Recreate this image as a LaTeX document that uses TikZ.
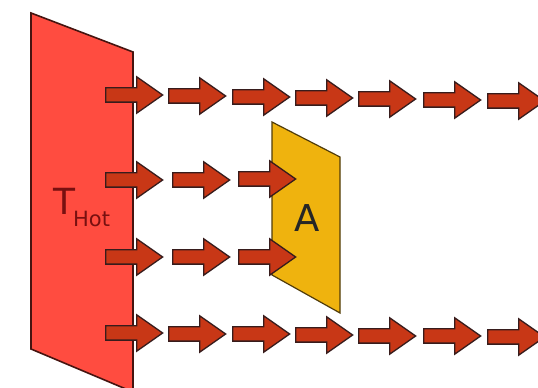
\documentclass[tikz,border=0pt]{standalone}
\usepackage{fontspec}
\setmainfont{DejaVu Sans}
\usepackage{xcolor}
\usetikzlibrary{shapes.arrows}
\definecolor{hotred}{RGB}{255,76,64}
\definecolor{hotedge}{RGB}{70,20,16}
\definecolor{flowred}{RGB}{200,55,22}
\definecolor{flowedge}{RGB}{55,28,28}
\definecolor{panelyellow}{RGB}{239,179,14}
\definecolor{paneledge}{RGB}{80,60,10}
\definecolor{labelred}{RGB}{120,16,16}
\tikzset{flowarrow/.style={single arrow, draw=flowedge, fill=flowred, line width=1.3pt,
  minimum height=57pt, inner sep=6.5pt, single arrow head extend=11pt,
  single arrow tip angle=70, anchor=tail},
%wall and panel outline
slab/.style={line width=1.6pt, line join=miter}}

\begin{document}
\begin{tikzpicture}[x=1pt,y=1pt]
 \useasboundingbox (0,0) rectangle (538,388);
 \clip (0,0) rectangle (538,388);

 %Drawing hot wall and panel A
 \fill[white] (0,0) rectangle (538,388);
 \draw[slab, draw=hotedge, fill=hotred] (31,375) -- (133,336) -- (133,-4) -- (31,39) -- cycle;
 \draw[slab, draw=paneledge, fill=panelyellow, line width=1.2pt] (272,266) -- (340,231) -- (340,75) -- (272,113) -- cycle;

 \node[labelred, anchor=base west, inner sep=0pt] (thot) at (53,173)
   {\fontsize{36}{36}\selectfont T\kern-2pt\raisebox{-12pt}{\fontsize{21}{21}\selectfont Hot}};
 \node[black!85] (labelA) at (307,170) {\fontsize{37}{37}\selectfont A};

 %Top row
 \node[flowarrow] (a11) at (105,293) {};
 \node[flowarrow] (a12) at (168,292) {};
 \node[flowarrow] (a13) at (232,291) {};
 \node[flowarrow] (a14) at (295,290) {};
 \node[flowarrow] (a15) at (358,289) {};
 \node[flowarrow] (a16) at (423,288) {};
 \node[flowarrow] (a17) at (487,287) {};

 %Rows stopped by A
 \node[flowarrow] (a21) at (105,208) {};
 \node[flowarrow] (a22) at (172,208) {};
 \node[flowarrow] (a23) at (238,209) {};

 \node[flowarrow] (a31) at (105,131) {};
 \node[flowarrow] (a32) at (172,131) {};
 \node[flowarrow] (a33) at (238,131) {};

 %Bottom row
 \node[flowarrow] (a41) at (105,55) {};
 \node[flowarrow] (a42) at (168,54) {};
 \node[flowarrow] (a43) at (232,54) {};
 \node[flowarrow] (a44) at (295,53) {};
 \node[flowarrow] (a45) at (358,52) {};
 \node[flowarrow] (a46) at (423,52) {};
 \node[flowarrow] (a47) at (487,51) {};

\end{tikzpicture}
\end{document}
